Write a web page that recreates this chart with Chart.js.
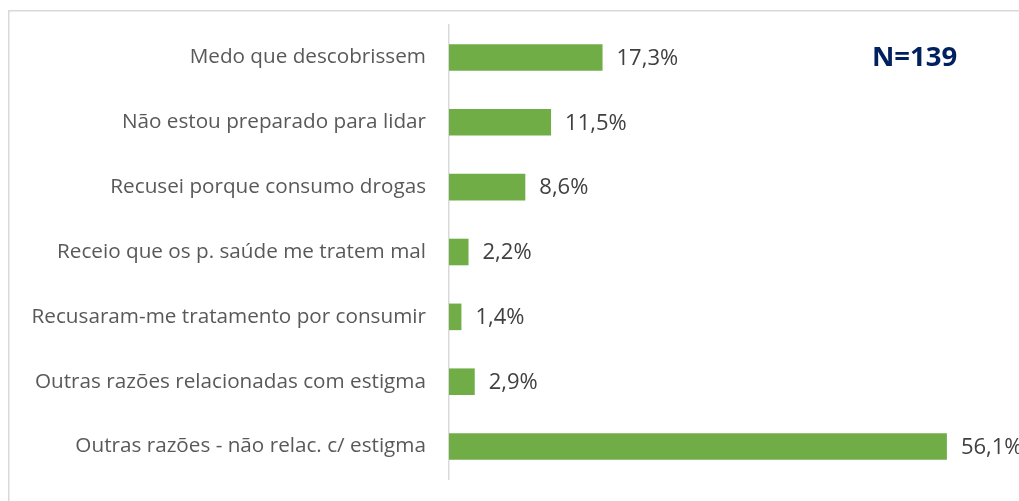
<!DOCTYPE html>
<html>
<head>
<meta charset="utf-8">
<script src="https://cdn.jsdelivr.net/npm/chart.js@4"></script>
<style>
html,body{margin:0;padding:0;background:#fff;}
#wrap{width:1019px;height:501px;position:relative;}
</style>
</head>
<body>
<div id="wrap"><canvas id="c" width="1019" height="501"></canvas></div>
<script>
const categories = [
  "Medo que descobrissem",
  "Não estou preparado para lidar",
  "Recusei porque consumo drogas",
  "Receio que os p. saúde me tratem mal",
  "Recusaram-me tratamento por consumir",
  "Outras razões relacionadas com estigma",
  "Outras razões - não relac. c/ estigma"
];
const values = [17.3, 11.5, 8.6, 2.2, 1.4, 2.9, 56.1];
const sampleLabel = "N=139";

const FONT = "'Open Sans', 'DejaVu Sans', sans-serif";

const decor = {
  id: 'decor',
  beforeDraw(chart) {
    const ctx = chart.ctx;
    ctx.save();
    ctx.strokeStyle = '#D9D9D9';
    ctx.lineWidth = 1.5;
    ctx.strokeRect(8.75, 10.75, 1100, 600);
    ctx.restore();
  },
  afterDatasetsDraw(chart) {
    const ctx = chart.ctx;
    const meta = chart.getDatasetMeta(0);
    ctx.save();
    ctx.font = "22px " + FONT;
    ctx.fillStyle = '#404040';
    ctx.textAlign = 'left';
    ctx.textBaseline = 'middle';
    meta.data.forEach((bar, i) => {
      const v = values[i];
      ctx.fillText(v.toFixed(1).replace('.', ',') + '%', bar.x + 14, bar.y + 1);
    });
    ctx.font = "bold 27.5px " + FONT;
    ctx.fillStyle = '#002060';
    ctx.textAlign = 'left';
    ctx.fillText(sampleLabel, 872, 58);
    ctx.restore();
  }
};

new Chart(document.getElementById('c'), {
  type: 'bar',
  data: {
    labels: categories,
    datasets: [{
      data: values,
      backgroundColor: '#70AD47',
      borderWidth: 0,
      categoryPercentage: 1,
      barPercentage: 0.41
    }]
  },
  options: {
    indexAxis: 'y',
    responsive: false,
    animation: false,
    layout: { padding: { left: 0, right: 2, top: 25, bottom: 22 } },
    plugins: { legend: { display: false }, tooltip: { enabled: false } },
    scales: {
      x: {
        min: 0, max: 64,
        display: false,
        grid: { display: false }
      },
      y: {
        grid: { display: false, drawTicks: false },
        border: { display: true, color: '#D9D9D9', width: 1.5 },
        ticks: { color: '#595959', font: { family: FONT, size: 20.7 }, padding: 23 },
        afterFit(scale) { scale.width = 449; scale.paddingTop = 0; scale.paddingBottom = 0; }
      }
    }
  },
  plugins: [decor]
});
</script>
</body>
</html>
